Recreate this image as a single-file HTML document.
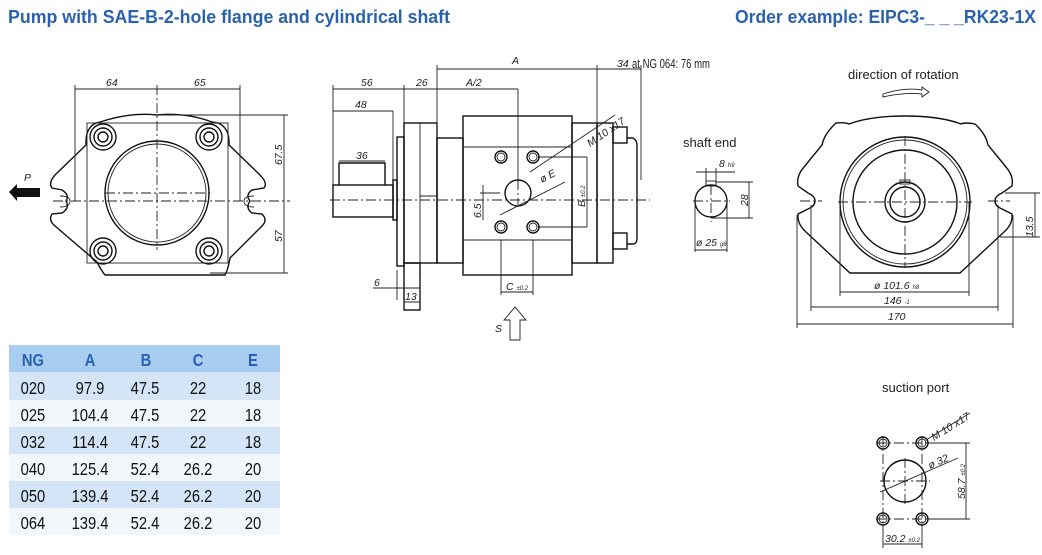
<!DOCTYPE html>
<html><head><meta charset="utf-8"><style>
body{margin:0;background:#fff;width:1042px;height:555px;overflow:hidden}
svg{display:block}
.t{font-family:"Liberation Sans Narrow","Liberation Sans",sans-serif;font-weight:bold;fill:#2b62ad;font-size:18px}
.d{font-family:"Liberation Sans",sans-serif;font-style:italic;font-size:10.5px;fill:#222}
.l{font-family:"Liberation Sans",sans-serif;font-size:13px;fill:#222}
.tb{font-family:"Liberation Sans",sans-serif;font-size:18px;fill:#111}
.th{font-family:"Liberation Sans",sans-serif;font-size:18px;font-weight:bold;fill:#2b62ad}
.k{stroke:#111;fill:none;stroke-width:1.4}
.m{stroke:#222;fill:none;stroke-width:0.9}
.c{stroke:#222;fill:none;stroke-width:0.9;stroke-dasharray:10 3 2 3}
</style></head><body>
<svg width="1042" height="555" viewBox="0 0 1042 555">
<text class="t" x="8" y="23" textLength="442" lengthAdjust="spacingAndGlyphs">Pump with SAE-B-2-hole flange and cylindrical shaft</text>
<text class="t" x="735" y="23" textLength="301" lengthAdjust="spacingAndGlyphs">Order example: EIPC3-_ _ _RK23-1X</text>

<!-- table -->
<rect x="9" y="345" width="271" height="27" fill="#a9cdf1"/>
<rect x="9" y="372" width="271" height="28" fill="#d4e5f7"/>
<rect x="9" y="400" width="271" height="27" fill="#f2f7fc"/>
<rect x="9" y="427" width="271" height="27" fill="#d4e5f7"/>
<rect x="9" y="454" width="271" height="27" fill="#f2f7fc"/>
<rect x="9" y="481" width="271" height="27" fill="#d4e5f7"/>
<rect x="9" y="508" width="271" height="27" fill="#f2f7fc"/>
<g transform="scale(0.82,1)">
<g class="th" text-anchor="middle"><text x="40.2" y="366">NG</text><text x="109.8" y="366">A</text><text x="178" y="366">B</text><text x="241.5" y="366">C</text><text x="308.5" y="366">E</text></g>
<g class="tb" text-anchor="middle">
<text y="394"><tspan x="40.2">020</tspan><tspan x="109.8">97.9</tspan><tspan x="176.8">47.5</tspan><tspan x="241.5">22</tspan><tspan x="308.5">18</tspan></text>
<text y="421"><tspan x="40.2">025</tspan><tspan x="109.8">104.4</tspan><tspan x="176.8">47.5</tspan><tspan x="241.5">22</tspan><tspan x="308.5">18</tspan></text>
<text y="448"><tspan x="40.2">032</tspan><tspan x="109.8">114.4</tspan><tspan x="176.8">47.5</tspan><tspan x="241.5">22</tspan><tspan x="308.5">18</tspan></text>
<text y="475"><tspan x="40.2">040</tspan><tspan x="109.8">125.4</tspan><tspan x="176.8">52.4</tspan><tspan x="241.5">26.2</tspan><tspan x="308.5">20</tspan></text>
<text y="502"><tspan x="40.2">050</tspan><tspan x="109.8">139.4</tspan><tspan x="176.8">52.4</tspan><tspan x="241.5">26.2</tspan><tspan x="308.5">20</tspan></text>
<text y="529"><tspan x="40.2">064</tspan><tspan x="109.8">139.4</tspan><tspan x="176.8">52.4</tspan><tspan x="241.5">26.2</tspan><tspan x="308.5">20</tspan></text>
</g></g>

<!-- LEFT VIEW -->
<path class="k" d="M100,122 Q130,112 157,115 Q185,112 212,122 L218,123 Q230,128 229,145 L260,175 Q268,183 264,188 L252,190 Q245,195 250,201 Q245,208 252,213 L262,214 Q268,220 262,226 L230,258 Q228,270 225,275 L105,275 Q101,270 97,262 L55,226 Q48,220 52,214 L62,213 Q70,208 66,201 Q70,195 62,190 L52,188 Q48,183 55,175 L86,145 Q85,128 96,123 Z"/>
<rect class="m" x="87" y="123" width="141" height="140"/>
<circle class="k" cx="157" cy="193" r="52"/><circle class="m" cx="157" cy="193" r="49"/>
<g class="k">
<circle cx="103" cy="137" r="13"/><circle cx="103" cy="137" r="9"/><circle cx="103" cy="137" r="5"/>
<circle cx="209" cy="137" r="13"/><circle cx="209" cy="137" r="9"/><circle cx="209" cy="137" r="5"/>
<circle cx="103" cy="251" r="13"/><circle cx="103" cy="251" r="9"/><circle cx="103" cy="251" r="5"/>
<circle cx="209" cy="251" r="13"/><circle cx="209" cy="251" r="9"/><circle cx="209" cy="251" r="5"/>
</g>
<path class="m" d="M60,196 Q70,196 70,201 Q70,207 60,207 M254,196 Q244,196 244,201 Q244,207 254,207"/>
<path class="c" d="M53,201 L290,201 M157,85 L157,250 M105,193 L210,193"/>
<path class="m" d="M75,85 V201 M240,85 V201 M75,89 H240 M157,115 H288 M210,273 H288 M284,115 V273"/>
<text class="d" x="106" y="86">64</text><text class="d" x="194" y="86">65</text>
<text class="d" transform="translate(282,165) rotate(-90)">67.5</text>
<text class="d" transform="translate(282,242) rotate(-90)">57</text>
<path d="M9,192 L17,184 L17,188 L40,188 L40,197 L17,197 L17,201 Z" fill="#111"/>
<text class="d" x="24" y="181" font-size="14">P</text>

<!-- MIDDLE VIEW -->
<g class="k">
<rect x="333" y="185" width="60" height="32"/>
<path d="M339,185 V163 H385 V185"/>
<rect x="393" y="180" width="4" height="40"/>
<rect x="397" y="137" width="7" height="129"/>
<rect x="404" y="123" width="33" height="140"/>
<rect x="404" y="263" width="16" height="47"/>
<rect x="437" y="138" width="26" height="125"/>
<rect x="463" y="116" width="109" height="159"/>
<rect x="572" y="123" width="25" height="140"/>
<rect x="597" y="123" width="16" height="140"/>
<rect x="613" y="127" width="14" height="16"/><rect x="613" y="233" width="14" height="16"/>
<path d="M627,138 H633 Q637,140 637,146 V238 Q637,244 633,244 H627"/>
<circle cx="518" cy="193" r="13"/>
<circle cx="501" cy="157" r="6"/><circle cx="533" cy="157" r="6"/><circle cx="501" cy="227" r="6"/><circle cx="533" cy="227" r="6"/>
</g>
<path class="m" d="M420,123 V263 M463,147 H572 M463,240 H572 M437,138 V128 M420,196 H437"/>
<circle class="m" cx="501" cy="157" r="4"/><circle class="m" cx="533" cy="157" r="4"/><circle class="m" cx="501" cy="227" r="4"/><circle class="m" cx="533" cy="227" r="4"/>
<path class="c" d="M330,200 H650 M518,180 V205"/>
<path class="m" d="M437,65 V128 M597,65 V263 M641,65 V180 M437,69 H641 M437,89 H518 M518,89 V190 M404,89 H437 M404,85 V123 M333,85 V185 M333,89 H404 M333,111 H393 M393,111 V180 M339,161 H385 M397,270 V300 M420,276 V310 M373,288 H420 M404,302 H420 M404,300 V310 M501,240 V295 M533,240 V295 M501,292 H533 M538,157 H587 M538,227 H587 M587,157 V227 M483,185 V220 M500,193 H480 M530,172 L615,115 M500,215 L565,182"/>
<text class="d" x="512" y="64">A</text>
<text class="d" x="617" y="67">34</text><text class="l" x="632" y="68" font-size="11" textLength="78" lengthAdjust="spacingAndGlyphs">at NG 064: 76 mm</text>
<text class="d" x="466" y="86">A/2</text><text class="d" x="416" y="86">26</text><text class="d" x="361" y="86">56</text>
<text class="d" x="355" y="108">48</text><text class="d" x="356" y="159">36</text>
<text class="d" x="374" y="286">6</text><text class="d" x="405" y="300">13</text>
<text class="d" x="506" y="290">C <tspan font-size="6">±0.2</tspan></text>
<text class="d" transform="translate(585,207) rotate(-90)">B <tspan font-size="6">±0.2</tspan></text>
<text class="d" transform="translate(481,218) rotate(-90)">6.5</text>
<text class="d" transform="translate(542,183) rotate(-28)">ø E</text>
<text class="d" transform="translate(590,147) rotate(-34)">M 10 x17</text>
<path class="m" d="M510,340 V320 H504 L515,307 L526,320 H520 V340 Z"/>
<text class="d" x="495" y="332" font-size="15">S</text>

<!-- SHAFT END -->
<text class="l" x="683" y="147">shaft end</text>
<circle class="k" cx="711" cy="201" r="16"/>
<rect class="m" x="706" y="181" width="10" height="5"/>
<path class="c" d="M693,201 H730 M711,185 V222"/>
<path class="m" d="M696,172 H735 M706,168 V186 M716,168 V186 M716,182 H753 M711,218 H753 M749,182 V218 M695,201 V252 M727,201 V252 M695,250 H727"/>
<text class="d" x="719" y="167">8 <tspan font-size="6">h9</tspan></text>
<text class="d" transform="translate(748,206) rotate(-90)">28</text>
<text class="d" x="696" y="246">ø 25 <tspan font-size="6">g6</tspan></text>

<!-- RIGHT VIEW -->
<text class="l" x="848" y="79">direction of rotation</text>
<path class="m" d="M883,94 Q905,87 922,90 L922,87 L929,92 L922,97 L922,94 Q905,92 883,97 Z"/>
<path class="k" d="M836,123 Q845,122 849,124 Q870,116 905,116 Q940,116 961,124 Q965,122 975,124 Q986,134 988,145 L1006,167 Q1014,176 1012,186 L1002,193 Q995,196 995,201 Q995,206 1002,209 L1012,214 Q1013,224 1004,232 L960,273 H850 L806,232 Q797,224 798,214 L808,209 Q815,206 815,201 Q815,196 808,193 L798,186 Q796,176 804,167 L822,145 Q824,134 836,123 Z"/>
<circle class="k" cx="905" cy="202" r="65"/><circle class="m" cx="905" cy="202" r="62"/><circle class="k" cx="905" cy="202" r="52"/>
<circle class="k" cx="905" cy="202" r="20"/><circle class="k" cx="905" cy="202" r="15"/>
<rect class="m" x="900" y="180" width="10" height="4"/>
<path class="c" d="M838,202 H972 M905,136 V268 M800,201 H822 M988,201 H1010"/>
<path class="m" d="M840,202 V296 M969,202 V296 M840,292 H969 M811,205 V311 M998,205 V311 M811,307 H998 M797,215 V328 M1013,215 V328 M797,324 H1013 M1005,193 H1040 M1000,237 H1040 M1035,193 V237"/>
<text class="d" x="874" y="289">ø 101.6 <tspan font-size="6">h8</tspan></text>
<text class="d" x="884" y="304">146 <tspan font-size="6">-1</tspan></text>
<text class="d" x="888" y="320">170</text>
<text class="d" transform="translate(1033,237) rotate(-90)">13.5</text>

<!-- SUCTION PORT -->
<text class="l" x="882" y="392">suction port</text>
<g class="k">
<circle cx="883" cy="443" r="6"/><circle cx="922" cy="443" r="6"/><circle cx="883" cy="519" r="6"/><circle cx="922" cy="519" r="6"/>
<circle cx="905" cy="481" r="21"/>
</g>
<circle class="m" cx="883" cy="443" r="4"/><circle class="m" cx="922" cy="443" r="4"/><circle class="m" cx="883" cy="519" r="4"/><circle class="m" cx="922" cy="519" r="4"/>
<path class="c" d="M876,443 H929 M876,519 H929 M883,436 V526 M922,436 V526 M880,481 H930 M905,458 V504"/>
<path class="m" d="M926,440 L970,413 M880,492 L958,458 M928,443 H970 M928,519 H970 M966,443 V519 M883,525 V548 M922,525 V548 M883,544 H922"/>
<text class="d" transform="translate(934,441) rotate(-32)">M 10 x17</text>
<text class="d" transform="translate(930,469) rotate(-24)">ø 32</text>
<text class="d" transform="translate(965,499) rotate(-90)">58.7 <tspan font-size="6">±0.2</tspan></text>
<text class="d" x="885" y="542">30.2 <tspan font-size="6">±0.2</tspan></text>
</svg>
</body></html>
